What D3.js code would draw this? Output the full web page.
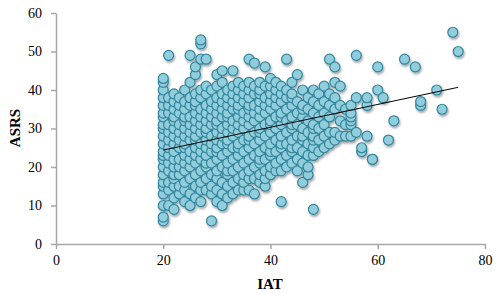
<!DOCTYPE html>
<html>
<head>
<meta charset="utf-8">
<script src="https://cdn.jsdelivr.net/npm/d3@7"></script>
<style>
  body { margin: 0; background: #fff; }
  .tick text { font-family: "Liberation Serif", serif; font-size: 14px; fill: #000; }
  .axis-title { font-family: "Liberation Serif", serif; font-size: 15px; font-weight: bold; }
</style>
</head>
<body>
<div id="chart"></div>
<script>
// IAT columns and the ASRS values
const iatColumns = [20,21,22,23,24,25,26,27,28,29,30,31,32,33,34,35,36,37,38,39,40,
  41,42,43,44,45,46,47,48,49,50,51,52,53,54,55,56,57,58,59,60,61,62,63,65,67,68,71,72,74,75];
const asrsColumns = [
  [6,7,10,13,15,16,18,20,22,23,24,26,28,30,31,33,34,36,38,40,42,43],
  [10,14,16,19,21,23,25,27,29,31,34,36,38,49],
  [9,12,15,17,18,20,22,24,26,28,30,32,33,35,37,39],
  [13,15,18,20,22,25,27,29,31,34,36,38],
  [11,14,16,19,21,23,25,26,28,30,32,33,35,37,40],
  [10,13,17,20,22,24,27,29,31,33,36,38,42,49],
  [12,15,18,21,23,25,27,28,30,32,34,36,37,39,44,46],
  [11,14,16,19,22,24,26,29,31,33,35,38,40,48,52,53],
  [14,17,20,21,23,25,27,29,30,32,34,36,39,41,48],
  [6,13,15,18,21,24,26,28,31,33,35,37,40],
  [11,14,17,19,22,24,25,27,29,31,32,34,36,38,41,44],
  [10,13,16,20,23,26,28,30,33,35,37,39,42,45],
  [12,15,18,19,21,24,26,27,29,31,33,34,36,38,40],
  [13,16,19,22,25,28,30,32,35,37,39,41,45],
  [14,17,20,23,25,26,29,31,33,35,36,38,40,42],
  [14,16,18,21,24,27,30,32,34,37,39,41],
  [14,17,19,22,25,27,28,31,33,35,36,38,40,42,48],
  [13,17,20,23,26,29,32,34,36,39,41,47],
  [16,18,21,22,24,27,29,30,33,35,37,39,40,42],
  [15,17,19,22,25,28,31,34,36,38,41,46],
  [18,20,23,24,26,29,31,32,35,37,39,41,43],
  [19,21,24,27,30,33,36,38,40,42],
  [11,19,22,25,26,28,31,33,34,37,39,41],
  [20,23,26,29,32,35,38,40,48],
  [21,24,25,27,30,31,33,36,38,39,42],
  [19,22,25,28,31,34,37,44],
  [16,21,24,27,28,30,33,35,36,40],
  [18,20,23,26,29,32,35,38],
  [9,23,25,27,28,30,31,34,37,40],
  [24,27,30,33,36,39],
  [25,28,31,34,37,41],
  [26,29,33,36,39,48],
  [27,29,35,38,42,46],
  [28,32,36,41],
  [28,31,35],
  [28,31,32,33,34,36],
  [29,38,49],
  [24,25],
  [28,36,38],
  [22,22],
  [40,46],
  [38],
  [27],
  [32],
  [48],
  [46],
  [36,37],
  [40],
  [35],
  [55],
  [50]
];
// linear trend line end points
const trendIat = [20, 75];
const trendAsrs = [24.4, 40.7];

const xTicks = [0, 20, 40, 60, 80];
const yTicks = [0, 10, 20, 30, 40, 50, 60];

const points = [];
iatColumns.forEach((x, i) => asrsColumns[i].forEach(y => points.push({iat: x, asrs: y})));

const W = 500, H = 294;
const svg = d3.select("#chart").append("svg")
    .attr("width", W)
    .attr("height", H);

const defs = svg.append("defs");
const f = defs.append("filter").attr("id", "shadow")
    .attr("x", "-50%").attr("y", "-50%").attr("width", "200%").attr("height", "200%");
f.append("feDropShadow")
    .attr("dx", 1).attr("dy", 2).attr("stdDeviation", 1)
    .attr("flood-color", "#000").attr("flood-opacity", 0.35);

const x = d3.scaleLinear().domain([0, 80]).range([56, 485]);
const y = d3.scaleLinear().domain([0, 60]).range([244, 13]);

// axes
const xAxis = svg.append("g")
    .attr("transform", `translate(0,${y(0)})`)
    .call(d3.axisBottom(x).tickValues(xTicks).tickSize(5).tickSizeOuter(0).tickPadding(6));
const yAxis = svg.append("g")
    .attr("transform", `translate(${x(0)},0)`)
    .call(d3.axisLeft(y).tickValues(yTicks).tickSize(5).tickSizeOuter(0).tickPadding(9));
[xAxis, yAxis].forEach(a => {
  a.select(".domain").attr("stroke", "#a6a6a6").attr("stroke-width", 1.5);
  a.selectAll(".tick line").attr("stroke", "#a6a6a6").attr("stroke-width", 1.5);
});

// points
svg.append("g")
    .attr("filter", "url(#shadow)")
  .selectAll("circle")
  .data(points)
  .enter().append("circle")
    .attr("cx", d => x(d.iat))
    .attr("cy", d => y(d.asrs))
    .attr("r", 5)
    .attr("fill", "#92cddc")
    .attr("stroke", "#31859c")
    .attr("stroke-width", 1.2);

// trend line
const line = d3.line()
    .x(d => x(d[0]))
    .y(d => y(d[1]));
svg.append("path")
    .datum(trendIat.map((v, i) => [v, trendAsrs[i]]))
    .attr("fill", "none")
    .attr("stroke", "#000")
    .attr("stroke-width", 1)
    .attr("d", line);

// axis titles
svg.append("text")
    .attr("class", "axis-title")
    .attr("text-anchor", "middle")
    .attr("x", 270)
    .attr("y", 289)
    .text("IAT");
svg.append("text")
    .attr("class", "axis-title")
    .attr("text-anchor", "middle")
    .attr("transform", "translate(20,128) rotate(-90)")
    .text("ASRS");
</script>
</body>
</html>
